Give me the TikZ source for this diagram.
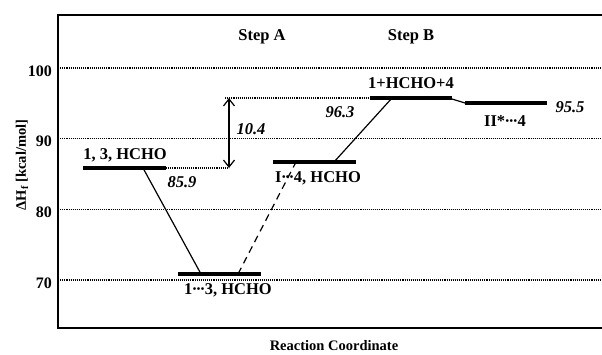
\documentclass[tikz,border=0pt]{standalone}
\usepackage{fontspec}
\setmainfont{Liberation Serif}
\usetikzlibrary{arrows.meta}
\newcommand{\mydots}{\kern-0.5pt·\kern-1.5pt·\kern-1.5pt·\kern-0.5pt}
\begin{document}
\begin{tikzpicture}[x=1pt,y=-1pt,
  lbl/.style={font=\fontsize{16.5}{18}\selectfont\bfseries, inner sep=0pt, anchor=base},
  val/.style={font=\fontsize{16.5}{18}\selectfont\bfseries\itshape, inner sep=0pt, anchor=base},
  axnum/.style={font=\fontsize{16}{18}\selectfont\bfseries, inner sep=0pt, anchor=east},
  axlbl/.style={font=\fontsize{14.5}{16}\selectfont\bfseries, inner sep=0pt},
  gridline/.style={line width=1.6pt, dash pattern=on 1.1pt off 1pt},
  bar/.style={line width=4pt},
  conn/.style={line width=1.2pt},
  frameline/.style={line width=2pt}]
\useasboundingbox (0,0) rectangle (602,354);

% grid lines
\draw[gridline] (58,68) -- (602,68);
\draw[gridline] (58,138.5) -- (602,138.5);
\draw[gridline] (58,209.5) -- (602,209.5);
\draw[gridline] (58,280) -- (602,280);

% frame
\draw[frameline] (602,15) -- (58,15) -- (58,328) -- (602,328);

% axis numbers
\node[axnum] (n100) at (52,71) {100};
\node[axnum] (n90) at (52,141) {90};
\node[axnum] (n80) at (52,212) {80};
\node[axnum] (n70) at (52,283) {70};

% axis labels
\node[axlbl, rotate=90] (ylab) at (22,165) {ΔH\textsubscript{f} [kcal/mol]};
\node[axlbl] (xlab) at (334,346) {Reaction Coordinate};

% steps
\node[lbl] (stepA) at (262,40) {Step A};
\node[lbl] (stepB) at (411,40) {Step B};

% level coordinates
\coordinate (b1l) at (83,168);   \coordinate (b1r) at (166,168);
\coordinate (b2l) at (178,274);  \coordinate (b2r) at (261,274);
\coordinate (b3l) at (273,162);  \coordinate (b3r) at (356,162);
\coordinate (b4l) at (370,98);   \coordinate (b4r) at (452,98);
\coordinate (b5l) at (465,103);  \coordinate (b5r) at (547,103);
\coordinate (arB) at (229,168);  \coordinate (arT) at (229,98);
\coordinate (dT) at (225,98);

% dotted extensions
\draw[gridline] (b1r) -- (arB);
\draw[gridline] (dT) -- (b4l);

% energy difference arrow
\draw[conn, {Straight Barb[length=7pt,width=11pt]}-{Straight Barb[length=7pt,width=11pt]}] (arB) -- (arT);

% connectors
\coordinate (c1a) at (143,168); \coordinate (c1b) at (201,274);
\coordinate (c2a) at (238,274); \coordinate (c2b) at (296,162);
\coordinate (c3a) at (334,162); \coordinate (c3b) at (392,98);
\coordinate (c4a) at (452,99);  \coordinate (c4b) at (465,103);
\draw[conn] (c1a) -- (c1b);
\draw[conn, dash pattern=on 7pt off 5pt] (c2a) -- (c2b);
\draw[conn] (c3a) -- (c3b);
\draw[conn] (c4a) -- (c4b);

% bars
\draw[bar] (b1l) -- (b1r);
\draw[bar] (b2l) -- (b2r);
\draw[bar] (b3l) -- (b3r);
\draw[bar] (b4l) -- (b4r);
\draw[bar] (b5l) -- (b5r);

% labels
\node[lbl] (L1) at (125,159.5) {1, 3, HCHO};
\node[lbl] (L2) at (228,294) {1\mydots3, HCHO};
\node[lbl] (L3) at (318,182) {I\mydots4, HCHO};
\node[lbl] (L4) at (411,88) {1+HCHO+4};
\node[lbl] (L5) at (505,126) {II*\mydots4};

% values
\node[val] (v1) at (182,187) {85.9};
\node[val] (v2) at (251,134) {10.4};
\node[val] (v3) at (340,117) {96.3};
\node[val] (v4) at (570,112) {95.5};
\end{tikzpicture}
\end{document}
